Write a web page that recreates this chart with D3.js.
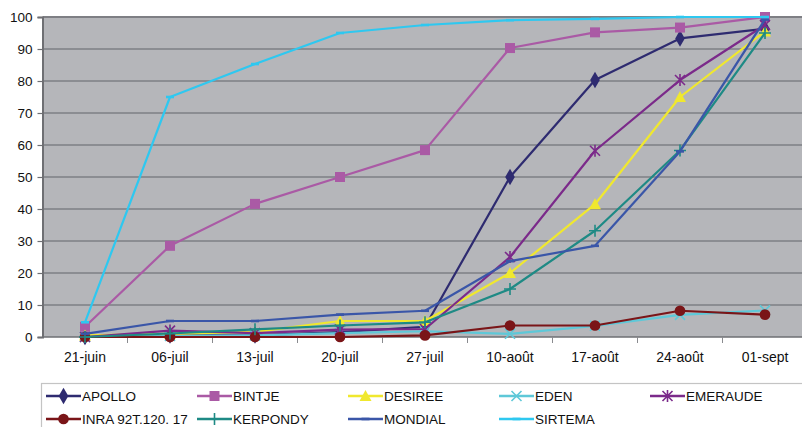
<!DOCTYPE html>
<html>
<head>
<meta charset="utf-8">
<script src="https://cdn.jsdelivr.net/npm/d3@7"></script>
<style>
  html, body { margin: 0; padding: 0; background: #ffffff; }
  svg { display: block; font-family: "Liberation Sans", Arial, sans-serif; }
</style>
</head>
<body>
<svg id="chart" width="802" height="427"></svg>
<script>
// Sampling dates
const dates = ["21-juin", "06-juil", "13-juil", "20-juil", "27-juil", "10-août", "17-août", "24-août", "01-sept"];
const yTicks = [0, 10, 20, 30, 40, 50, 60, 70, 80, 90, 100];

// Percentages per variety
const apollo   = [0, 0.5, 0.5, 1.5, 3.2, 50, 80.3, 93.3, 96.3];
const bintje   = [3.2, 28.5, 41.6, 50, 58.4, 90.3, 95.2, 96.7, 100];
const desiree  = [0.5, 1, 1.6, 5, 5, 20, 41.5, 75, 95.5];
const eden     = [0, 0.3, 0.5, 1.2, 1.8, 1, 3.5, 6.9, 8.3];
const emeraude = [0, 2, 1.2, 2.3, 2.5, 25, 58.2, 80.3, 97.5];
const inra     = [0, 0, 0, 0, 0.5, 3.6, 3.6, 8.2, 7];
const kerpondy = [0, 1.1, 2.4, 3.6, 4.6, 15, 33.2, 58.3, 95];
const mondial  = [1, 5, 5, 7, 8.2, 23.7, 28.5, 58, 99.2];
const sirtema  = [4.6, 75, 85.3, 95, 97.5, 99, 99.4, 100, 100];

const series = [
  { name: "APOLLO",           values: apollo,   color: "#2E2B70", marker: "diamond" },
  { name: "BINTJE",           values: bintje,   color: "#AA5AA5", marker: "square" },
  { name: "DESIREE",          values: desiree,  color: "#F0E82E", marker: "triangle" },
  { name: "EDEN",             values: eden,     color: "#5EC8D8", marker: "cross" },
  { name: "EMERAUDE",         values: emeraude, color: "#7B2A8A", marker: "asterisk" },
  { name: "INRA 92T.120. 17", values: inra,     color: "#7A1518", marker: "circle" },
  { name: "KERPONDY",         values: kerpondy, color: "#1E8A85", marker: "plus" },
  { name: "MONDIAL",          values: mondial,  color: "#3A56A8", marker: "dash" },
  { name: "SIRTEMA",          values: sirtema,  color: "#2EC8F0", marker: "dash" }
];

const svg = d3.select("#chart");
const plot = { left: 42.5, right: 807.5, top: 17, bottom: 337 };

const x = d3.scaleBand().domain(dates).range([plot.left, plot.right]);
const y = d3.scaleLinear().domain([0, 100]).range([plot.bottom, plot.top]);
const cx = d => x(d) + x.bandwidth() / 2;

// Plot background
svg.append("rect")
  .attr("x", plot.left).attr("y", plot.top)
  .attr("width", plot.right - plot.left).attr("height", plot.bottom - plot.top)
  .attr("fill", "#B5B6BA");

// Horizontal gridlines
svg.append("g").selectAll("line")
  .data(yTicks.filter(t => t > 0))
  .join("line")
  .attr("x1", plot.left).attr("x2", plot.right)
  .attr("y1", d => y(d)).attr("y2", d => y(d))
  .attr("stroke", "#7E7F84")
  .attr("stroke-width", d => d === 100 ? 2 : 1.4);

// Y axis
const yAxis = svg.append("g")
  .attr("transform", `translate(${plot.left},0)`)
  .call(d3.axisLeft(y).tickValues(yTicks).tickSize(5).tickPadding(5));
yAxis.select(".domain").attr("stroke", "#6E6F73").attr("stroke-width", 2);
yAxis.selectAll(".tick line").attr("stroke", "#6E6F73").attr("stroke-width", 1.2);
yAxis.selectAll(".tick text")
  .attr("font-size", 13.5).attr("fill", "#111").attr("font-family", "Liberation Sans, Arial, sans-serif");

// X axis: labels at category centres, ticks at category boundaries
const xAxis = svg.append("g").attr("transform", `translate(0,${plot.bottom})`);
xAxis.append("line")
  .attr("x1", plot.left).attr("x2", plot.right)
  .attr("y1", 0).attr("y2", 0)
  .attr("stroke", "#6E6F73").attr("stroke-width", 1.6);
xAxis.selectAll("line.tick")
  .data(dates.slice(1))
  .join("line")
  .attr("class", "tick")
  .attr("x1", d => x(d)).attr("x2", d => x(d))
  .attr("y1", 0).attr("y2", 6)
  .attr("stroke", "#8A8B8F").attr("stroke-width", 1);
xAxis.selectAll("text")
  .data(dates)
  .join("text")
  .attr("x", d => cx(d))
  .attr("y", 25)
  .attr("text-anchor", "middle")
  .attr("font-size", 14)
  .attr("fill", "#111")
  .text(d => d);

// Marker shapes
function markerPath(type) {
  switch (type) {
    case "diamond": return d3.symbol(d3.symbolDiamond, 80)();
    case "square": return "M-5,-5H5V5H-5Z";
    case "triangle": return "M0,-6L6,5H-6Z";
    case "circle": return d3.symbol(d3.symbolCircle, 90)();
    case "cross": return "M-5,-5L5,5M-5,5L5,-5";
    case "asterisk": return "M-5,-5L5,5M-5,5L5,-5M0,-6V6";
    case "plus": return "M-6,0H6M0,-6V6";
    case "dash": return "M-4,0H4";
  }
}
const filled = t => ["diamond", "square", "triangle", "circle"].includes(t);

function drawMarker(g, type, color, px, py) {
  const p = g.append("path")
    .attr("d", markerPath(type))
    .attr("transform", `translate(${px},${py})`);
  if (filled(type)) {
    p.attr("fill", color).attr("stroke", "none");
  } else {
    p.attr("fill", "none").attr("stroke", color).attr("stroke-width", type === "dash" ? 2.6 : 1.6);
  }
}

const line = d3.line().x(d => cx(d.date)).y(d => y(d.value));

const lines = svg.append("g");
series.forEach(s => {
  const pts = dates.map((date, i) => ({ date, value: s.values[i] }));
  const g = lines.append("g");
  g.append("path")
    .datum(pts)
    .attr("d", line)
    .attr("fill", "none")
    .attr("stroke", s.color)
    .attr("stroke-width", 2.2)
    .attr("stroke-linejoin", "round");
  pts.forEach(p => drawMarker(g, s.marker, s.color, cx(p.date), y(p.value)));
});

// Legend
const legend = svg.append("g");
legend.append("rect")
  .attr("x", 41.5).attr("y", 383.5)
  .attr("width", 780).attr("height", 60)
  .attr("fill", "#fff").attr("stroke", "#C4C4C4").attr("stroke-width", 1.2);

const colStep = 151;
series.forEach((s, i) => {
  const col = i % 5, row = Math.floor(i / 5);
  const lx = 46 + col * colStep;
  const ly = 396 + row * 23;
  const g = legend.append("g");
  g.append("line")
    .attr("x1", lx).attr("x2", lx + 35)
    .attr("y1", ly).attr("y2", ly)
    .attr("stroke", s.color).attr("stroke-width", 2.6);
  drawMarker(g, s.marker, s.color, lx + 17.5, ly);
  g.append("text")
    .attr("x", lx + 36)
    .attr("y", ly)
    .attr("dy", "0.36em")
    .attr("font-size", 13.5)
    .attr("fill", "#111")
    .text(s.name);
});
</script>
</body>
</html>
